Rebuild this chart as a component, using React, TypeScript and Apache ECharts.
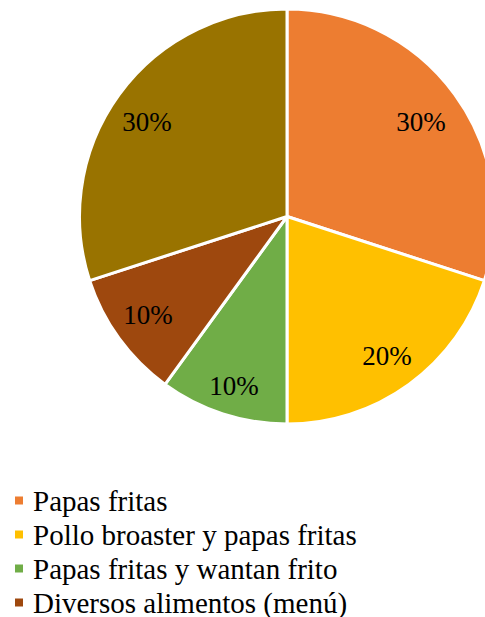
import React, { useEffect, useRef } from "react";
import * as echarts from "echarts";

const categories = [
  "Papas fritas",
  "Pollo broaster y papas fritas",
  "Papas fritas y wantan frito",
  "Diversos alimentos (menú)",
  "Otros",
];
const values = [30, 20, 10, 10, 30];
const colors = ["#ED7D31", "#FFC000", "#70AD47", "#9E480E", "#997300"];
const legendNames = categories.slice(0, 4);

const FONT = "Liberation Serif";
// small label nudges (Excel places inside labels slightly irregularly)
const LABEL_OFFSETS = [
  [-5, 6],
  [-1, 1],
  [0, 6],
  [0, -2],
  [-1, 6],
];

export default function App() {
  const ref = useRef<HTMLDivElement>(null);
  useEffect(() => {
    if (!ref.current) return;
    const chart = echarts.init(ref.current, undefined, { renderer: "svg" });
    const data = categories.map((name, i) => ({
      name,
      value: values[i],
      itemStyle: { color: colors[i] },
    }));
    const center = [287, 216.5];
    const R = 207.5;
    chart.setOption({
      animation: false,
      legend: {
        data: legendNames,
        orient: "vertical",
        left: 13,
        top: 486,
        padding: 0,
        icon: "rect",
        itemWidth: 10,
        itemHeight: 10,
        itemGap: 5,
        selectedMode: false,
        textStyle: {
          fontFamily: FONT,
          fontSize: 29,
          lineHeight: 29,
          color: "#000",
          padding: [0, 0, 0, 4],
        },
      },
      series: [
        {
          type: "pie",
          center,
          radius: [0, R],
          startAngle: 90,
          clockwise: true,
          silent: true,
          itemStyle: { borderColor: "#fff", borderWidth: 3 },
          label: { show: false },
          labelLine: { show: false },
          data,
        },
        {
          type: "pie",
          center,
          radius: [130, R],
          startAngle: 90,
          clockwise: true,
          silent: true,
          itemStyle: { color: "transparent", borderWidth: 0 },
          label: {
            show: true,
            position: "inside",
            formatter: (p: any) => `${p.value}%`,
            fontFamily: FONT,
            fontSize: 27,
            color: "#000",
          },
          labelLine: { show: false },
          data: categories.map((name, i) => ({
            name,
            value: values[i],
            label: { offset: LABEL_OFFSETS[i] },
          })),
        },
      ],
    });
    return () => chart.dispose();
  }, []);
  return (
    <div
      ref={ref}
      style={{ position: "fixed", left: 0, top: 0, width: 485, height: 617, background: "#fff" }}
    />
  );
}
